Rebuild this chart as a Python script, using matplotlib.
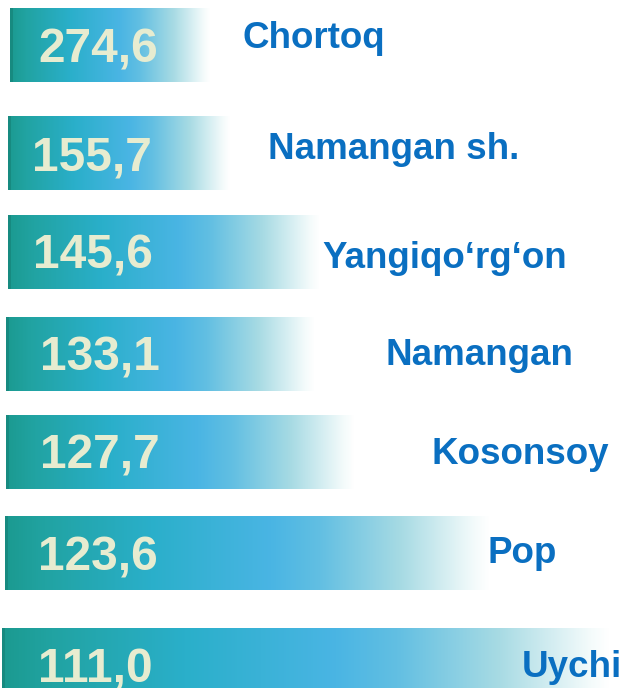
import matplotlib
matplotlib.use("Agg")
import matplotlib.pyplot as plt
import numpy as np
from matplotlib.colors import LinearSegmentedColormap

# district values (shown as labels inside bars)
districts = ["Chortoq", "Namangan sh.", "Yangiqo\u2018rg\u2018on", "Namangan",
             "Kosonsoy", "Pop", "Uychi"]
values = [274.6, 155.7, 145.6, 133.1, 127.7, 123.6, 111.0]
# bar lengths as drawn in the infographic (not proportional to values)
bar_lengths = [200, 222, 312, 309, 349, 485, 608]

# layout (pixel space of the 622x688 picture)
bar_left = [10, 8, 8, 6, 6, 5, 2]
bar_top = [8, 116, 215, 317, 415, 516, 628]
bar_height = 74
label_x = [242, 268, 322, 385, 432, 488, 522]
label_cy = [36, 147, 256, 353, 452, 551, 665]
value_x = [38, 32, 33, 40, 40, 38, 38]

LABEL_COLOR = "#0a6fc1"
VALUE_COLOR = "#e7ecd0"

grad = LinearSegmentedColormap.from_list("bar", [
    (0.00, "#1b9a90"),
    (0.08, "#21a3a2"),
    (0.30, "#2aafca"),
    (0.55, "#4ab5e4"),
    (0.65, "#62bfe2"),
    (0.82, "#a8dbe4"),
    (0.97, "#f4fbfb"),
    (1.00, "#ffffff"),
])

fig = plt.figure(figsize=(6.22, 6.88), dpi=100)
ax = fig.add_axes([0, 0, 1, 1])
ax.set_xlim(0, 622)
ax.set_ylim(688, 0)
ax.axis("off")

g = np.linspace(0, 1, 256).reshape(1, -1)

for i, name in enumerate(districts):
    x0 = bar_left[i]
    y0 = bar_top[i]
    x1 = x0 + bar_lengths[i]
    ax.imshow(g, cmap=grad, aspect="auto", interpolation="bilinear",
              extent=(x0, x1, y0 + bar_height, y0), zorder=1)
    # darker left edge
    ax.add_patch(plt.Rectangle((x0, y0), 3, bar_height, color="#178a80",
                               lw=0, zorder=2))
    cy = y0 + bar_height / 2
    txt = f"{values[i]:.1f}".replace(".", ",")
    ax.text(value_x[i], min(cy + 17, 685), txt, color=VALUE_COLOR,
            fontsize=34.5, fontweight="bold", family="Liberation Sans",
            ha="left", va="baseline", zorder=3)
    ax.text(label_x[i], label_cy[i] + 12, name, color=LABEL_COLOR,
            fontsize=26.5, fontweight="bold", family="Liberation Sans",
            ha="left", va="baseline", zorder=3)

ax.set_xlim(0, 622)
ax.set_ylim(688, 0)
fig.savefig("out.png", dpi=100)
